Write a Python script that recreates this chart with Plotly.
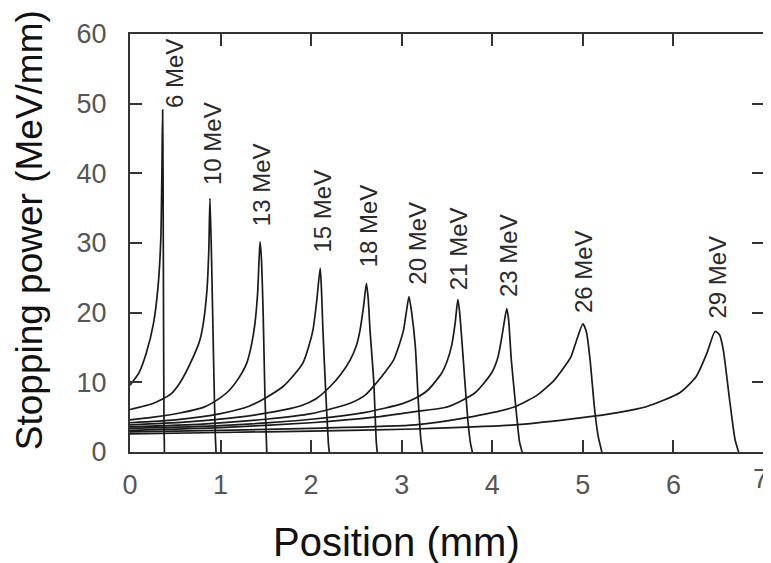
import plotly.graph_objects as go

# Beam energies (MeV)
energies = [6, 10, 13, 15, 18, 20, 21, 23, 26, 29]

# Position (mm) / stopping power (MeV/mm) samples
pos_6 = [0.0, 0.10, 0.18, 0.26, 0.31, 0.34, 0.352, 0.360, 0.365, 0.370, 0.375, 0.380]
sp_6 = [9.6, 11.4, 14.2, 18.5, 23.8, 30.5, 40.0, 49.1, 40.0, 20.0, 5.0, 0.0]

pos_10 = [0.0, 0.26, 0.45, 0.55, 0.70, 0.77, 0.81, 0.85, 0.87, 0.883, 0.90, 0.92, 0.94, 0.95]
sp_10 = [6.1, 7.0, 8.3, 9.9, 13.7, 16.0, 18.5, 23.3, 29.0, 36.4, 28.0, 15.0, 3.0, 0.0]

pos_13 = [0.0, 0.26, 0.55, 0.81, 1.00, 1.10, 1.20, 1.29, 1.34, 1.38, 1.41, 1.435, 1.45, 1.47, 1.49, 1.51]
sp_13 = [4.6, 5.0, 5.6, 6.4, 7.8, 8.9, 10.6, 12.8, 15.3, 18.5, 23.0, 30.2, 28.0, 20.0, 8.0, 0.0]

pos_15 = [0.0, 0.5, 1.0, 1.32, 1.50, 1.69, 1.80, 1.91, 1.97, 2.02, 2.06, 2.10, 2.115, 2.13, 2.16, 2.19, 2.20]
sp_15 = [4.2, 4.6, 5.5, 6.6, 7.8, 9.4, 10.9, 12.8, 15.0, 17.5, 21.5, 26.4, 23.0, 17.5, 8.9, 1.3, 0.0]

pos_18 = [0.0, 0.6, 1.2, 1.6, 1.88, 2.05, 2.21, 2.33, 2.43, 2.50, 2.54, 2.58, 2.61, 2.63, 2.65, 2.69, 2.72, 2.73]
sp_18 = [3.9, 4.3, 5.0, 5.8, 6.6, 7.6, 9.4, 11.2, 13.2, 15.3, 17.5, 21.0, 24.2, 22.0, 17.5, 10.4, 1.3, 0.0]

pos_20 = [0.0, 0.8, 1.5, 2.0, 2.43, 2.60, 2.72, 2.83, 2.91, 2.97, 3.02, 3.05, 3.08, 3.11, 3.15, 3.18, 3.21, 3.23]
sp_20 = [3.6, 4.0, 4.7, 5.5, 7.0, 8.2, 9.9, 11.7, 13.2, 15.3, 17.5, 20.0, 22.3, 20.0, 15.2, 8.0, 2.0, 0.0]

pos_21 = [0.0, 1.0, 2.0, 2.6, 3.0, 3.15, 3.29, 3.44, 3.50, 3.55, 3.59, 3.62, 3.64, 3.68, 3.73, 3.76, 3.78]
sp_21 = [3.4, 3.8, 4.7, 5.7, 6.9, 7.7, 8.9, 11.3, 13.0, 15.2, 18.5, 21.9, 20.0, 13.2, 4.6, 1.2, 0.0]

pos_23 = [0.0, 1.0, 2.0, 2.7, 3.15, 3.51, 3.81, 3.99, 4.06, 4.10, 4.13, 4.16, 4.18, 4.21, 4.27, 4.30, 4.33]
sp_23 = [3.1, 3.5, 4.2, 5.0, 5.8, 6.5, 8.5, 11.3, 13.5, 16.1, 18.5, 20.6, 19.0, 13.2, 5.1, 1.5, 0.0]

pos_26 = [0.0, 1.0, 2.0, 3.15, 3.70, 4.25, 4.50, 4.69, 4.80, 4.87, 4.93, 5.00, 5.04, 5.08, 5.13, 5.17, 5.21]
sp_26 = [2.9, 3.1, 3.4, 3.9, 4.9, 6.5, 8.2, 10.4, 12.3, 13.7, 16.0, 18.4, 17.2, 13.2, 6.1, 2.2, 0.0]

pos_29 = [0.0, 1.0, 2.0, 3.15, 4.25, 4.97, 5.40, 5.70, 6.07, 6.25, 6.37, 6.46, 6.51, 6.55, 6.62, 6.68, 6.72]
sp_29 = [2.6, 2.8, 3.0, 3.3, 3.9, 4.9, 5.7, 6.5, 8.5, 10.8, 14.2, 17.3, 16.8, 14.7, 7.5, 1.8, 0.0]

series = [(pos_6, sp_6), (pos_10, sp_10), (pos_13, sp_13), (pos_15, sp_15), (pos_18, sp_18),
          (pos_20, sp_20), (pos_21, sp_21), (pos_23, sp_23), (pos_26, sp_26), (pos_29, sp_29)]

x_ticks = [0, 1, 2, 3, 4, 5, 6, 7]
x_ticktext = ["0", "1", "2", "3", "4", "5", "6", ""]
y_ticks = [0, 10, 20, 30, 40, 50, 60]

x_title = "Position (mm)"
y_title = "Stopping power (MeV/mm)"

# label styling offsets (pixels / data units above the peak)
label_xshift = [12, 2, 1, 2, 3, 9, 0, 1, 0, 2]
label_dy = [0.0, 1.7, 2.0, 1.9, 2.0, 1.5, 1.1, 1.4, 1.3, 1.5]

FONT = "Liberation Sans, Arial, sans-serif"

fig = go.Figure()
for (xs, ys), e in zip(series, energies):
    fig.add_trace(go.Scatter(x=xs, y=ys, mode="lines", name=f"{e} MeV",
                             line=dict(color="#1a1a1a", width=1.7, shape="spline", smoothing=0.6),
                             showlegend=False, hoverinfo="skip"))

for i, ((xs, ys), e) in enumerate(zip(series, energies)):
    k = ys.index(max(ys))
    fig.add_annotation(x=xs[k], y=ys[k] + label_dy[i], text=f"{e} MeV", textangle=-90,
                       xanchor="center", yanchor="bottom", showarrow=False,
                       xshift=label_xshift[i],
                       font=dict(family=FONT, size=24, color="#2a2a2a"))

# last x tick label sits slightly inside the right edge
fig.add_annotation(x=x_ticks[-1], y=0, xref="x", yref="y", text=str(x_ticks[-1]),
                   xanchor="center", yanchor="top", showarrow=False, xshift=-4, yshift=-10,
                   font=dict(family=FONT, size=27, color="#555555"))

# axis titles
fig.add_annotation(x=0.4196, y=-0.215, xref="paper", yref="paper", text=x_title,
                   xanchor="center", yanchor="middle", showarrow=False,
                   font=dict(family=FONT, size=40, color="#111111"))
fig.add_annotation(x=-0.159, y=0.531, xref="paper", yref="paper", text=y_title, textangle=-90,
                   xanchor="center", yanchor="middle", showarrow=False,
                   font=dict(family=FONT, size=37, color="#111111"))

axis_common = dict(showline=True, linecolor="#333333", linewidth=2, mirror="ticks",
                   ticks="inside", ticklen=12, tickwidth=1.5, tickcolor="#333333",
                   showgrid=False, zeroline=False, automargin=False,
                   tickfont=dict(family=FONT, size=27, color="#555555"))

fig.update_xaxes(range=[0, 7], tickvals=x_ticks, ticktext=x_ticktext, ticklabelstandoff=8,
                 **axis_common)
fig.update_yaxes(range=[0, 60], tickvals=y_ticks, ticklabelstandoff=16, **axis_common)

# the page body adds an 8px offset, so the figure is sized to fit the window
fig.update_layout(width=763, height=555, margin=dict(l=122, r=7, t=26, b=111),
                  plot_bgcolor="white", paper_bgcolor="white")

fig.write_html("out.html")
